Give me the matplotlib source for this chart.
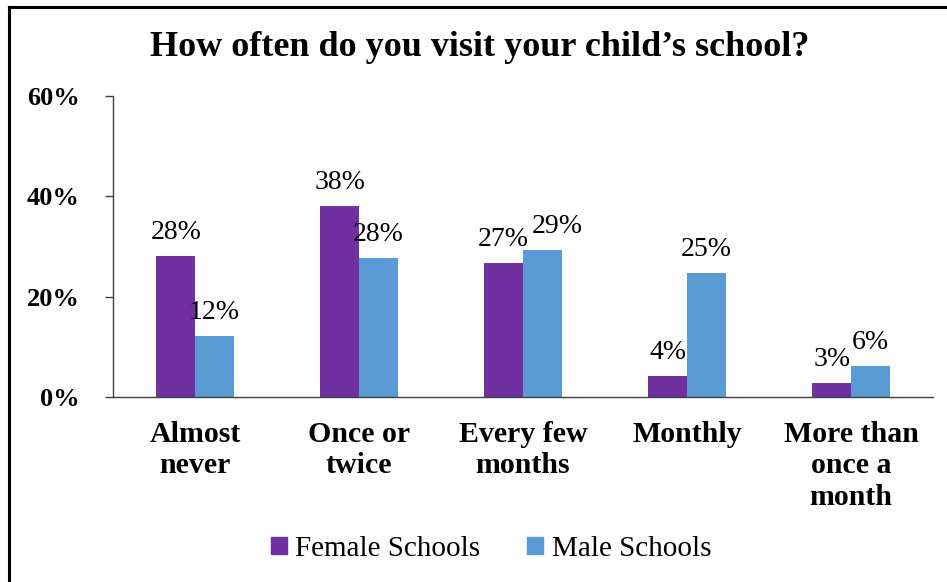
import matplotlib
matplotlib.use("Agg")
import matplotlib.pyplot as plt
import numpy as np
from matplotlib.patches import Rectangle
from matplotlib.lines import Line2D

categories = ["Almost\nnever", "Once or\ntwice", "Every few\nmonths", "Monthly", "More than\nonce a\nmonth"]
female = [28.1, 38.1, 26.7, 4.2, 2.8]
male = [12.2, 27.7, 29.3, 24.7, 6.2]
female_labels = ["28%", "38%", "27%", "4%", "3%"]
male_labels = ["12%", "28%", "29%", "25%", "6%"]
yticks = [0, 20, 40, 60]
ytick_labels = ["0%", "20%", "40%", "60%"]
series_names = ["Female Schools", "Male Schools"]

PURPLE = "#7030A0"
BLUE = "#5B9BD5"
FONT = "Liberation Serif"

fig = plt.figure(figsize=(9.47, 5.82), dpi=100)
W, H = 947, 582
ax = fig.add_axes([113 / W, 1 - 397 / H, (933 - 113) / W, (397 - 96) / H])

x = np.arange(len(categories))
bw = 0.235
ax.bar(x - bw / 2, female, width=bw, color=PURPLE, label=series_names[0], zorder=2)
ax.bar(x + bw / 2, male, width=bw, color=BLUE, label=series_names[1], zorder=2)

ax.set_xlim(-0.5, len(categories) - 0.5)
ax.set_ylim(0, 60)
ax.set_yticks(yticks)
ax.set_yticklabels(ytick_labels, fontfamily=FONT, fontweight="bold", fontsize=19)
ax.set_xticks(x)
ax.set_xticklabels(categories, fontfamily=FONT, fontweight="bold", fontsize=21.5, linespacing=1.22, va="top")
ax.tick_params(axis="x", length=0, pad=17)
ax.tick_params(axis="y", length=6, width=1, color="#404040", pad=18, direction="out")
for s in ["top", "right"]:
    ax.spines[s].set_visible(False)
ax.spines["left"].set_color("#404040")
ax.spines["bottom"].set_color("#404040")
ax.spines["left"].set_linewidth(1)
ax.spines["bottom"].set_linewidth(1)

male_dx = [0, 0, 15, 0, 0]
for i in range(len(categories)):
    ax.annotate(female_labels[i], (x[i] - bw / 2, female[i]), xytext=(0, 12), textcoords="offset points",
                ha="center", va="baseline", fontfamily=FONT, fontsize=20)
    ax.annotate(male_labels[i], (x[i] + bw / 2, male[i]), xytext=(male_dx[i] * 0.72, 12), textcoords="offset points",
                ha="center", va="baseline", fontfamily=FONT, fontsize=20)

fig.text(480 / W, 1 - 47 / H, "How often do you visit your child\u2019s school?", ha="center", va="center",
         fontfamily=FONT, fontweight="bold", fontsize=26)

handles = [Rectangle((0, 0), 1, 1, color=PURPLE), Rectangle((0, 0), 1, 1, color=BLUE)]
leg = fig.legend(handles, series_names, loc="center", bbox_to_anchor=(491 / W, 1 - 549 / H), ncol=2,
                 frameon=False, handlelength=0.55, handleheight=0.55, handletextpad=0.3, columnspacing=1.6,
                 prop={"family": FONT, "size": 21})

# outer chart border (left and top visible)
fig.add_artist(Line2D([9 / W, 9 / W], [0, 1 - 7 / H], transform=fig.transFigure, color="black", lw=2.2))
fig.add_artist(Line2D([9 / W, 1], [1 - 7 / H, 1 - 7 / H], transform=fig.transFigure, color="black", lw=2.2))

fig.savefig("out.png", dpi=100)
